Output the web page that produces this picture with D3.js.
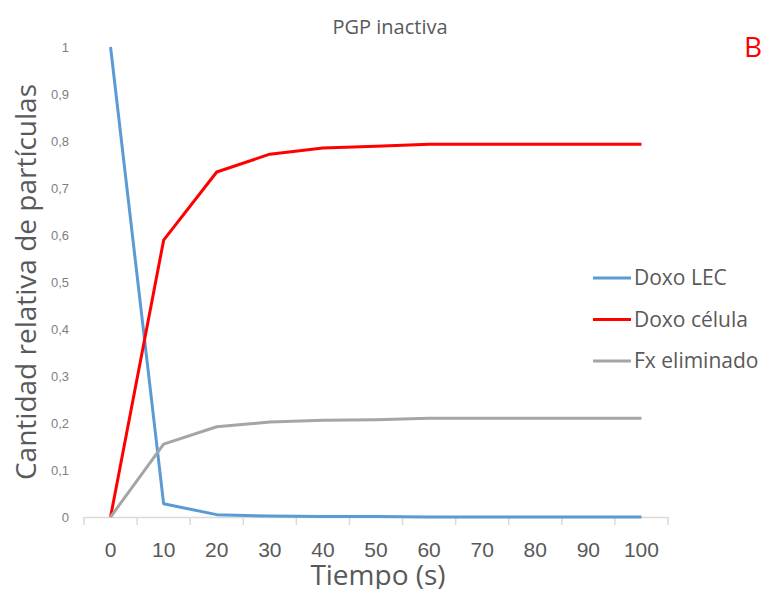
<!DOCTYPE html>
<html lang="es">
<head>
    <meta charset="UTF-8">
    <title>PGP inactiva</title>
    <script src="https://cdnjs.cloudflare.com/ajax/libs/d3/7.8.5/d3.min.js"></script>
    <style>
        body { margin: 0; background: #fff; }
        svg { font-family: "Open Sans", "Noto Sans", sans-serif; }
    </style>
</head>
<body>
    <div id="chart"></div>

    <script>
        // tiempos (s)
        const tiempos = [0, 10, 20, 30, 40, 50, 60, 70, 80, 90, 100];
        const doxoLEC = [1, 0.028, 0.005, 0.002, 0.001, 0.001, 0, 0, 0, 0, 0];
        const doxoCelula = [0, 0.589, 0.734, 0.772, 0.785, 0.789, 0.793, 0.793, 0.793, 0.793, 0.793];
        const fxEliminado = [0, 0.155, 0.192, 0.202, 0.206, 0.207, 0.210, 0.210, 0.210, 0.210, 0.210];
        const yTicks = [0, 0.1, 0.2, 0.3, 0.4, 0.5, 0.6, 0.7, 0.8, 0.9, 1];

        const series = [
            { nombre: "Doxo LEC", valores: doxoLEC, color: "#5b9bd5" },
            { nombre: "Doxo célula", valores: doxoCelula, color: "#ff0000" },
            { nombre: "Fx eliminado", valores: fxEliminado, color: "#a5a5a5" }
        ];

        const width = 767, height = 589;

        const svg = d3.select("#chart")
            .append("svg")
            .attr("width", width)
            .attr("height", height);

        const x = d3.scaleBand()
            .domain(tiempos)
            .range([84, 668]);

        const y = d3.scaleLinear()
            .domain([0, 1])
            .range([517, 47]);

        const cx = d => x(d) + x.bandwidth() / 2;

        // eje y (solo etiquetas)
        const yAxis = svg.append("g")
            .attr("transform", "translate(69,0)")
            .call(d3.axisLeft(y).tickValues(yTicks).tickSize(0).tickPadding(0)
                .tickFormat(d => d3.format(".1~f")(d).replace(".", ",")));
        yAxis.select(".domain").remove();
        yAxis.selectAll("text").attr("font-size", "13px").attr("fill", "#7f7f7f");

        // eje x
        const xAxis = svg.append("g")
            .attr("transform", "translate(0,517)")
            .call(d3.axisBottom(x).tickSize(0).tickPadding(25));
        xAxis.select(".domain").attr("stroke", "#d9d9d9").attr("stroke-width", 1.5);
        xAxis.selectAll("text").attr("font-size", "21px").attr("fill", "#595959");

        const bordes = tiempos.map(d => x(d)).concat([x(tiempos[tiempos.length - 1]) + x.bandwidth()]);
        xAxis.selectAll("line.borde")
            .data(bordes)
            .join("line")
            .attr("class", "borde")
            .attr("x1", d => d).attr("x2", d => d)
            .attr("y1", 0).attr("y2", 8)
            .attr("stroke", "#d9d9d9")
            .attr("stroke-width", 1.5);

        // lineas
        const linea = d3.line()
            .x((v, i) => cx(tiempos[i]))
            .y(v => y(v));

        svg.append("g")
            .selectAll("path")
            .data(series)
            .join("path")
            .attr("d", s => linea(s.valores))
            .attr("fill", "none")
            .attr("stroke", s => s.color)
            .attr("stroke-width", 3)
            .attr("stroke-linejoin", "round");

        // titulo
        svg.append("text")
            .attr("x", 390).attr("y", 34)
            .attr("text-anchor", "middle")
            .attr("font-size", "20px")
            .attr("fill", "#595959")
            .text("PGP inactiva");

        svg.append("text")
            .attr("x", 753).attr("y", 57)
            .attr("text-anchor", "middle")
            .attr("font-size", "28px")
            .attr("fill", "#ff0000")
            .text("B");

        // titulos de ejes
        svg.append("text")
            .attr("x", 378).attr("y", 585)
            .attr("text-anchor", "middle")
            .attr("font-size", "28px")
            .attr("fill", "#595959")
            .text("Tiempo (s)");

        svg.append("text")
            .attr("transform", "translate(36,282) rotate(-90)")
            .attr("text-anchor", "middle")
            .attr("font-size", "28px")
            .attr("fill", "#595959")
            .text("Cantidad relativa de partículas");

        // leyenda
        const leyenda = svg.append("g")
            .selectAll("g")
            .data(series)
            .join("g")
            .attr("transform", (s, i) => `translate(593,${278 + i * 41.5})`);

        leyenda.append("line")
            .attr("x1", 0).attr("x2", 38)
            .attr("stroke", s => s.color)
            .attr("stroke-width", 3);

        leyenda.append("text")
            .attr("x", 41).attr("dy", "0.35em")
            .attr("font-size", "21px")
            .attr("fill", "#595959")
            .text(s => s.nombre);
    </script>
</body>
</html>
